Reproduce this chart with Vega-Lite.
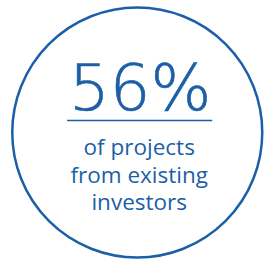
{
  "$schema": "https://vega.github.io/schema/vega-lite/v6.json",
  "width": 264,
  "height": 262,
  "padding": 0,
  "autosize": {"type": "fit", "contains": "padding"},
  "background": "white",
  "config": {"view": {"stroke": null}, "axis": {"disable": true}},
  "datasets": {
    "ring": [{"cx": 141, "cy": 133}],
    "stat": [{"value": "56%", "x": 144, "y": 110, "x1": 69, "x2": 218, "ry": 121}],
    "caption": [
      {"text": "of projects", "x": 143, "y": 156},
      {"text": "from existing", "x": 143, "y": 184},
      {"text": "investors", "x": 143, "y": 211}
    ]
  },
  "encoding": {
    "x": {"type": "quantitative", "scale": {"domain": [0, 264]}, "axis": null},
    "y": {"type": "quantitative", "scale": {"domain": [0, 262], "reverse": true}, "axis": null}
  },
  "layer": [
    {
      "data": {"name": "ring"},
      "mark": {"type": "point", "shape": "circle", "filled": false, "size": 62500, "stroke": "#1c5fa7", "strokeWidth": 2.5, "opacity": 1},
      "encoding": {
        "x": {"field": "cx", "type": "quantitative", "scale": {"domain": [0, 264]}, "axis": null},
        "y": {"field": "cy", "type": "quantitative", "scale": {"domain": [0, 262], "reverse": true}, "axis": null}
      }
    },
    {
      "data": {"name": "stat"},
      "mark": {"type": "rule", "stroke": "#1c5fa7", "strokeWidth": 1.5},
      "encoding": {
        "x": {"field": "x1", "type": "quantitative", "axis": null},
        "x2": {"field": "x2"},
        "y": {"field": "ry", "type": "quantitative", "axis": null}
      }
    },
    {
      "data": {"name": "stat"},
      "mark": {"type": "text", "font": "DejaVu Sans", "fontWeight": 200, "fontSize": 64, "align": "center", "baseline": "alphabetic", "color": "#1c5fa7", "stroke": "#1c5fa7", "strokeWidth": 0.6},
      "encoding": {
        "x": {"field": "x", "type": "quantitative", "axis": null},
        "y": {"field": "y", "type": "quantitative", "axis": null},
        "text": {"field": "value"}
      }
    },
    {
      "data": {"name": "caption"},
      "mark": {"type": "text", "font": "Open Sans", "fontWeight": 400, "fontSize": 22.5, "align": "center", "baseline": "alphabetic", "color": "#1c5fa7"},
      "encoding": {
        "x": {"field": "x", "type": "quantitative", "axis": null},
        "y": {"field": "y", "type": "quantitative", "axis": null},
        "text": {"field": "text"}
      }
    }
  ]
}
